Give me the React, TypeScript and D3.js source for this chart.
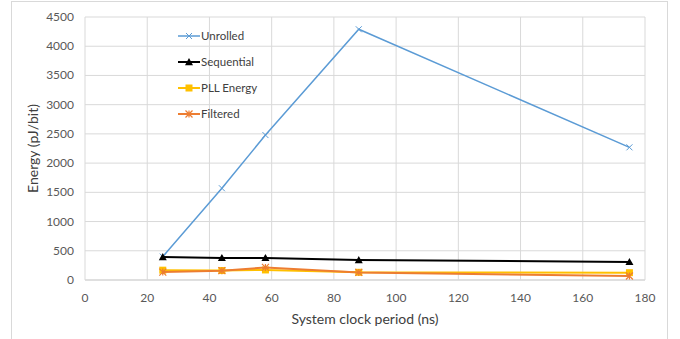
import React from "react";
import * as d3 from "d3";

const xValues = [25, 44, 58, 88, 175];
const unrolled = [400, 1570, 2480, 4290, 2270];
const sequential = [392, 378, 378, 342, 310];
const pllEnergy = [168, 162, 172, 132, 125];
const filtered = [135, 160, 215, 130, 68];
const xTicks = [0, 20, 40, 60, 80, 100, 120, 140, 160, 180];
const yTicks = [0, 500, 1000, 1500, 2000, 2500, 3000, 3500, 4000, 4500];

const seriesNames = ["Unrolled", "Sequential", "PLL Energy", "Filtered"];
const seriesColors = ["#5B9BD5", "#000000", "#FFC000", "#ED7D31"];
const seriesMarkers = ["x", "triangle", "square", "star"];
const seriesData = [unrolled, sequential, pllEnergy, filtered];

const W = 680, H = 339;
const L = 85, R = 645, T = 17, B = 280;
const font = "Lato, 'Open Sans', sans-serif";

function Marker({ type, x, y, color }: { type: string; x: number; y: number; color: string }) {
  if (type === "x") {
    const s = 3;
    return <path d={`M${x - s},${y - s}L${x + s},${y + s}M${x - s},${y + s}L${x + s},${y - s}`} stroke={color} strokeWidth={1} fill="none" />;
  }
  if (type === "triangle") {
    const s = 4;
    return <path d={`M${x},${y - s}L${x + s},${y + s * 0.8}L${x - s},${y + s * 0.8}Z`} fill={color} />;
  }
  if (type === "square") {
    const s = 3.5;
    return <rect x={x - s} y={y - s} width={2 * s} height={2 * s} fill={color} />;
  }
  const s = 3.5;
  return <path d={`M${x - s},${y - s}L${x + s},${y + s}M${x - s},${y + s}L${x + s},${y - s}M${x},${y - s}L${x},${y + s}`} stroke={color} strokeWidth={1.2} fill="none" />;
}

export default function App() {
  const x = d3.scaleLinear().domain([0, 180]).range([L, R]);
  const y = d3.scaleLinear().domain([0, 4500]).range([B, T]);
  const line = d3.line<number>().x((_, i) => x(xValues[i])).y((d) => y(d));
  return (
    <svg width={W} height={H} style={{ position: "absolute", left: 0, top: 0 }}>
      <rect x={0} y={0} width={W} height={H} fill="#fff" />
      <rect x={11.5} y={1.5} width={656} height={345} fill="none" stroke="#d9d9d9" />
      {yTicks.map((t) => (
        <line key={"gy" + t} x1={L} x2={R} y1={y(t)} y2={y(t)} stroke={t === 0 ? "#bfbfbf" : "#d9d9d9"} strokeWidth={1} />
      ))}
      {xTicks.map((t) => (
        <line key={"gx" + t} x1={x(t)} x2={x(t)} y1={T} y2={B} stroke="#d9d9d9" strokeWidth={1} />
      ))}
      {yTicks.map((t) => (
        <text key={"ty" + t} x={L - 11} y={y(t) + 4} textAnchor="end" fontFamily={font} fontSize={12} fill="#595959">{t}</text>
      ))}
      {xTicks.map((t) => (
        <text key={"tx" + t} x={x(t)} y={B + 22} textAnchor="middle" fontFamily={font} fontSize={12} fill="#595959">{t}</text>
      ))}
      <text x={(L + R) / 2} y={B + 44} textAnchor="middle" fontFamily={font} fontSize={14} fill="#404040">System clock period (ns)</text>
      <text transform={`translate(38,${(T + B) / 2}) rotate(-90)`} textAnchor="middle" fontFamily={font} fontSize={14} fill="#404040">Energy (pJ/bit)</text>
      {seriesData.map((data, si) => (
        <g key={seriesNames[si]}>
          <path d={line(data) || ""} fill="none" stroke={seriesColors[si]} strokeWidth={si === 0 ? 1.5 : 2} />
          {data.map((v, i) => (
            <Marker key={i} type={seriesMarkers[si]} x={x(xValues[i])} y={y(v)} color={seriesColors[si]} />
          ))}
        </g>
      ))}
      {seriesNames.map((n, i) => {
        const ly = 36 + i * 26;
        return (
          <g key={"lg" + n}>
            <line x1={178} x2={200} y1={ly} y2={ly} stroke={seriesColors[i]} strokeWidth={i === 0 ? 1.5 : 2} />
            <Marker type={seriesMarkers[i]} x={189} y={ly} color={seriesColors[i]} />
            <text x={201} y={ly + 4} fontFamily={font} fontSize={11.5} fill="#404040">{n}</text>
          </g>
        );
      })}
    </svg>
  );
}
